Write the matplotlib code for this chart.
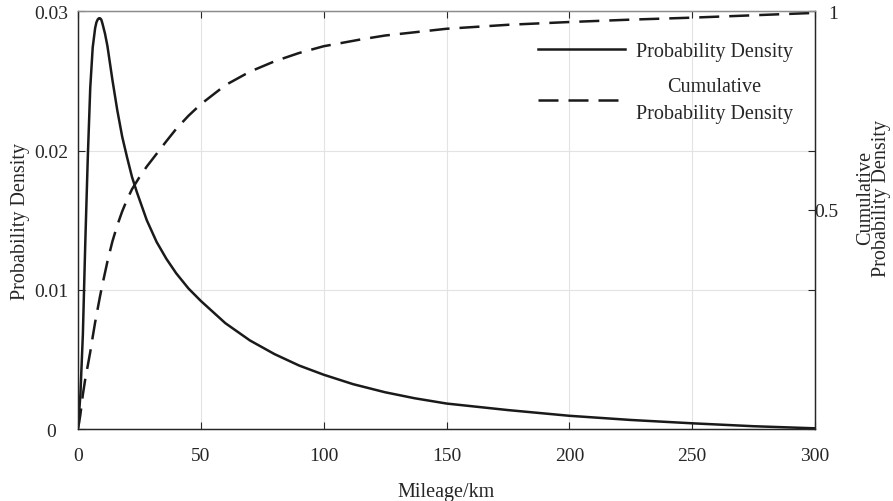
import matplotlib
matplotlib.use("Agg")
import matplotlib.pyplot as plt
from matplotlib.lines import Line2D

plt.rcParams['font.family'] = ['Liberation Serif', 'DejaVu Serif']

# Probability density (left axis)
pdf_x = [0, 1, 2, 3, 4, 5, 6, 7, 7.5, 8, 8.5, 9, 9.5, 10, 11, 12, 14, 16, 18,
         20, 22, 24, 28, 32, 36, 40, 45, 50, 60, 70, 80, 90, 100, 112, 125,
         137, 150, 175, 200, 225, 250, 275, 300]
pdf_y = [0.0, 0.0025, 0.0068, 0.0135, 0.0195, 0.0245, 0.0274, 0.0288, 0.0292,
         0.0294, 0.0295, 0.0295, 0.0294, 0.0291, 0.0284, 0.0275, 0.0251, 0.0229,
         0.0210, 0.0195, 0.0181, 0.0170, 0.0150, 0.01344, 0.01222, 0.01118,
         0.01009, 0.0092, 0.0076, 0.00636, 0.00538, 0.00456, 0.0039, 0.00322,
         0.00264, 0.00221, 0.00183, 0.00136, 0.00095, 0.00065, 0.00041,
         0.0002, 0.00005]

# Cumulative probability density (right axis)
cdf_x = [0, 0.5, 1, 1.5, 2, 3, 4, 5, 6, 7, 8, 9, 10, 12, 14, 16, 18, 20, 22,
         25, 28, 32, 36, 40, 45, 50, 60, 70, 80, 90, 100, 115, 125, 150, 175,
         200, 225, 250, 275, 300]
cdf_y = [-0.05, -0.035, -0.015, 0.01, 0.035, 0.075, 0.108, 0.142, 0.18, 0.217,
         0.25, 0.283, 0.313, 0.37, 0.42, 0.461, 0.496, 0.526, 0.552, 0.582,
         0.609, 0.641, 0.673, 0.704, 0.737, 0.766, 0.814, 0.848, 0.874, 0.895,
         0.912, 0.929, 0.939, 0.956, 0.966, 0.973, 0.979, 0.984, 0.99, 0.996]

x_ticks = [0, 50, 100, 150, 200, 250, 300]
left_ticks = [0, 0.01, 0.02, 0.03]
left_labels = ['0', '0.01', '0.02', '0.03']
right_ticks = [0.5, 1]
right_labels = ['0.5', '1']

TFS = 14     # tick labels
LFS = 14.5   # axis labels / legend
INK = '#262626'
LINE = '#1a1a1a'

fig = plt.figure(figsize=(8.93, 5.02), dpi=100)
ax = fig.add_axes([0.0873, 0.1434, 0.9127 - 0.0873, 0.9755 - 0.1434])
ax2 = ax.twinx()

lw = 1.8
dash = (0, (8, 4))
ax.plot(pdf_x, pdf_y, color=LINE, lw=lw, solid_joinstyle='round')
ax2.plot(cdf_x, cdf_y, color=LINE, lw=lw, linestyle=dash)

ax.set_xlim(0, 300)
ax.set_ylim(0, 0.03)
ax2.set_ylim(-0.052, 1)

ax.set_xticks(x_ticks)
ax.set_xticklabels([str(t) for t in x_ticks], fontsize=TFS)
ax.set_yticks(left_ticks)
ax.set_yticklabels(left_labels, fontsize=TFS)
for t in ax.get_yticklabels():
    t.set_horizontalalignment('center')
ax2.set_yticks(right_ticks)
ax2.set_yticklabels(right_labels, fontsize=TFS)
for t in ax2.get_yticklabels():
    t.set_horizontalalignment('right')

ax.tick_params(axis='x', direction='in', top=True, length=5, width=0.8,
               color=INK, pad=13, labelcolor=INK)
ax.tick_params(axis='y', direction='in', right=True, labelright=False,
               length=5, width=0.8, color=INK, pad=19.5, labelcolor=INK)
ax2.tick_params(axis='y', direction='in', length=5, width=0.8,
                color=INK, pad=16.5, labelcolor=INK)

ax.grid(True, color='#e3e3e3', lw=0.8)
ax.set_axisbelow(True)

for a in (ax, ax2):
    for s in a.spines.values():
        s.set_color(INK)
        s.set_linewidth(0.9)
    a.spines['top'].set_color('#8c8c8c')

ax.set_xlabel('Mileage/km', fontsize=LFS, color=INK, labelpad=13)
ax.set_ylabel('Probability Density', fontsize=LFS, color=INK, labelpad=3)
ax2.set_ylabel('Cumulative\nProbability Density', fontsize=LFS, color=INK,
               linespacing=0.8)
ax2.yaxis.set_label_coords(1.0556, 0.555)
ax2.yaxis.label.set_multialignment('center')

handles = [Line2D([], [], color=LINE, lw=lw),
           Line2D([], [], color=LINE, lw=lw, linestyle=dash)]
leg = ax.legend(handles, ['Probability Density', 'Cumulative\nProbability Density'],
                loc='upper right', bbox_to_anchor=(0.970, 0.927), frameon=False,
                fontsize=LFS, handlelength=4.3, handletextpad=0.55,
                labelspacing=0.8, borderaxespad=0, borderpad=0)
for t in leg.get_texts():
    t.set_multialignment('center')
    t.set_linespacing(1.6)
    t.set_color(INK)

fig.savefig('out.png', dpi=100)
